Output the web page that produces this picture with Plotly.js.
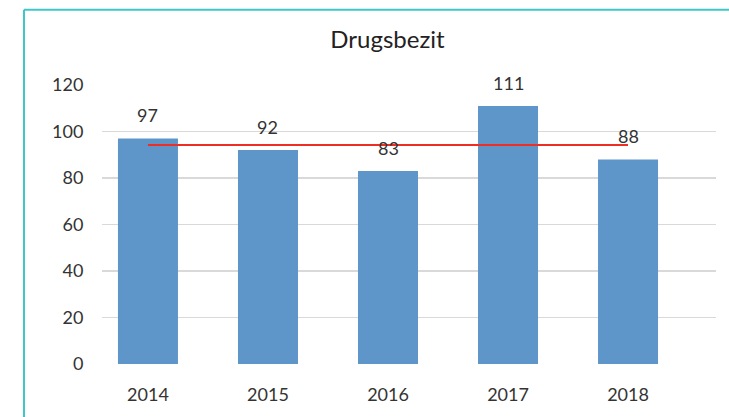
<!DOCTYPE html>
<html>
<head>
<meta charset="utf-8">
<script src="https://cdn.plot.ly/plotly-3.0.1.min.js"></script>
<style>
html,body{margin:0;padding:0;background:#fff;}
#chart{width:729px;height:417px;}
</style>
</head>
<body>
<div id="chart"></div>
<script>
const years = ['2014', '2015', '2016', '2017', '2018'];
const counts = [97, 92, 83, 111, 88];
const average = [94.2, 94.2, 94.2, 94.2, 94.2];
const yTicks = [0, 20, 40, 60, 80, 100, 120];

const font = 'Lato, "Open Sans", sans-serif';
const textColor = '#333333';

const traces = [
  {
    type: 'bar',
    x: years,
    y: counts,
    width: 0.5,
    marker: {color: '#5F96CA', line: {width: 0}},
    hoverinfo: 'x+y'
  },
  {
    type: 'scatter',
    mode: 'lines',
    x: years,
    y: average,
    line: {color: '#EE2E24', width: 2},
    hoverinfo: 'y'
  }
];

const annotations = years.map((yr, i) => ({
  x: i, y: counts[i], xref: 'x', yref: 'y',
  text: String(counts[i]), showarrow: false,
  xanchor: 'center', yanchor: 'bottom', yshift: 10,
  font: {family: font, size: 18, color: textColor}
}));

const layout = {
  width: 729, height: 417,
  margin: {l: 102, r: 13, t: 85, b: 52.5},
  paper_bgcolor: '#fff', plot_bgcolor: '#fff',
  showlegend: false,
  title: {
    text: 'Drugsbezit',
    x: 0.5315, xref: 'container', xanchor: 'center',
    y: 0.905, yref: 'container', yanchor: 'middle',
    font: {family: font, size: 24, color: '#222222'}
  },
  xaxis: {
    type: 'category',
    range: [-0.383, 4.733],
    showgrid: false, zeroline: false, showline: false,
    ticks: 'outside', ticklen: 14, tickcolor: 'rgba(0,0,0,0)',
    tickfont: {family: font, size: 18, color: textColor},
    fixedrange: true
  },
  yaxis: {
    range: [0, 120],
    tickvals: yTicks,
    showgrid: true, gridcolor: '#D9D9D9', gridwidth: 1.5,
    zeroline: false, showline: false,
    ticks: 'outside', ticklen: 14, tickcolor: 'rgba(0,0,0,0)',
    tickfont: {family: font, size: 18, color: textColor},
    fixedrange: true
  },
  annotations: annotations,
  shapes: [
    {type: 'line', xref: 'paper', yref: 'paper',
     x0: (24 - 102) / 614, x1: (24 - 102) / 614,
     y0: (364.5 - 9.5) / 279.5, y1: (364.5 - 430) / 279.5,
     line: {color: '#3FC6C6', width: 2}},
    {type: 'line', xref: 'paper', yref: 'paper',
     x0: (24 - 102) / 614, x1: (740 - 102) / 614,
     y0: (364.5 - 9.5) / 279.5, y1: (364.5 - 9.5) / 279.5,
     line: {color: '#3FC6C6', width: 2}}
  ]
};

Plotly.newPlot('chart', traces, layout, {displayModeBar: false, staticPlot: true});
</script>
</body>
</html>
